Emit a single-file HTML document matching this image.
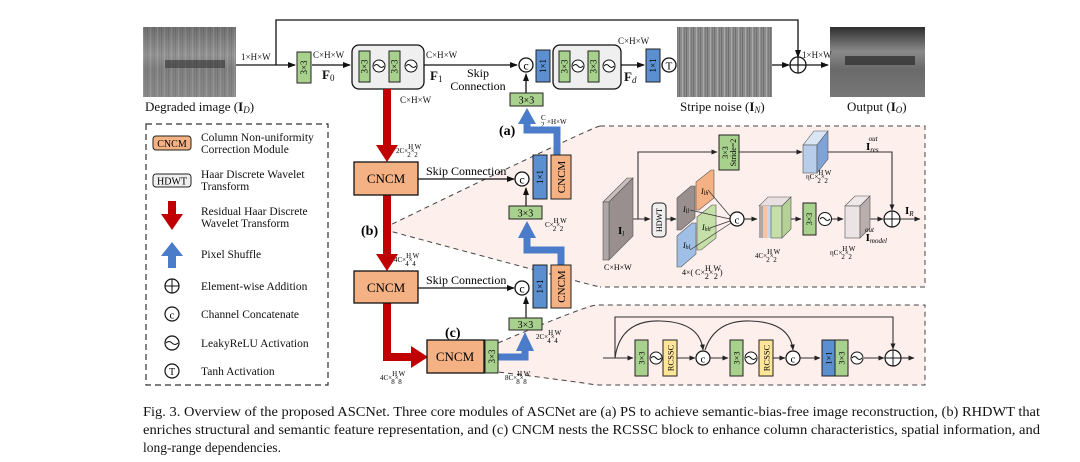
<!DOCTYPE html>
<html><head><meta charset="utf-8"><style>
html,body{margin:0;padding:0;background:#fff;}
svg{display:block;font-family:"Liberation Serif",serif;}
</style></head><body>
<svg width="1080" height="462" viewBox="0 0 1080 462" xmlns="http://www.w3.org/2000/svg">
<defs>
<marker id="ah" markerWidth="8" markerHeight="6" refX="7" refY="3" orient="auto" markerUnits="userSpaceOnUse"><path d="M0,0 L8,3 L0,6 z" fill="#111"/></marker>
<marker id="ahs" markerWidth="6" markerHeight="5" refX="5.5" refY="2.5" orient="auto" markerUnits="userSpaceOnUse"><path d="M0,0 L6,2.5 L0,5 z" fill="#222"/></marker>
<pattern id="stripes" width="7" height="10" patternUnits="userSpaceOnUse">
<rect width="7" height="10" fill="#8c8c8c"/><rect x="0" width="1" height="10" fill="#6f6f6f"/><rect x="3" width="1" height="10" fill="#a8a8a8"/><rect x="5" width="1" height="10" fill="#7a7a7a"/></pattern>
<linearGradient id="outg" x1="0" y1="0" x2="0" y2="1"><stop offset="0" stop-color="#2e2e2e"/><stop offset="0.35" stop-color="#8a8a8a"/><stop offset="0.6" stop-color="#6a6a6a"/><stop offset="1" stop-color="#777"/></linearGradient>
<linearGradient id="degg" x1="0" y1="0" x2="0" y2="1"><stop offset="0" stop-color="#5a5a5a"/><stop offset="0.4" stop-color="#9a9a9a"/><stop offset="0.6" stop-color="#777"/><stop offset="1" stop-color="#8a8a8a"/></linearGradient>
</defs>

<path d="M382,229 L596,126 L925,126 L925,287 L596,287 Z" fill="#fcefec"/>
<path d="M600,126 Q590,128 382,229 Q590,285 600,287" fill="none" stroke="#444" stroke-dasharray="5,4" stroke-width="1"/>
<path d="M600,126 L925,126 L925,287 L600,287" fill="none" stroke="#444" stroke-dasharray="5,4" stroke-width="1"/>
<path d="M498,343 L590,305 L925,305 L925,385 L590,385 L498,372 Z" fill="#fcefec"/>
<path d="M498,343 Q580,308 596,305 L925,305 L925,385 L596,385 Q580,382 498,372" fill="none" stroke="#444" stroke-dasharray="5,4" stroke-width="1"/>

<rect x="143" y="27" width="93" height="70" fill="url(#degg)"/>
<rect x="143" y="27" width="93" height="70" fill="url(#stripes)" opacity="0.45"/>
<rect x="165" y="60" width="60" height="8" fill="#333" opacity="0.6"/>
<rect x="677" y="27" width="95" height="70" fill="url(#stripes)"/>
<rect x="830" y="27" width="95" height="70" fill="url(#outg)"/>
<rect x="845" y="56" width="70" height="9" fill="#2a2a2a" opacity="0.7"/>
<g font-size="13" fill="#111">
<text x="145" y="111">Degraded image (<tspan font-weight="bold">I</tspan><tspan font-size="9" font-style="italic" dy="2">D</tspan><tspan dy="-2">)</tspan></text>
<text x="680" y="111">Stripe noise (<tspan font-weight="bold">I</tspan><tspan font-size="9" font-style="italic" dy="2">N</tspan><tspan dy="-2">)</tspan></text>
<text x="847" y="111">Output (<tspan font-weight="bold">I</tspan><tspan font-size="9" font-style="italic" dy="2">O</tspan><tspan dy="-2">)</tspan></text>
</g>

<g stroke="#111" stroke-width="1.3" fill="none">
<path d="M236,65 L295,65" marker-end="url(#ah)"/>
<path d="M276,65 L276,20 L798,20 L798,57" marker-end="url(#ah)"/>
<path d="M312,65 L350,65" marker-end="url(#ah)"/>
<path d="M424,65 L517,65" marker-end="url(#ah)"/>
<path d="M621,65 L644,65" marker-end="url(#ah)"/>
<path d="M772,65 L789,65" marker-end="url(#ah)"/>
<path d="M806,65 L828,65" marker-end="url(#ah)"/>
<path d="M526,93 L526,74" marker-end="url(#ah)"/>
</g>
<g font-size="9" fill="#111">
<text x="241" y="60">1×H×W</text>
<text x="313" y="58">C×H×W</text>
<text x="426" y="58">C×H×W</text>
<text x="400" y="103">C×H×W</text>
<text x="618" y="44">C×H×W</text>
<text x="802" y="58">1×H×W</text>
</g>
<g font-size="13" font-weight="bold" fill="#111">
<text x="322" y="79">F<tspan font-size="9" font-weight="normal" dy="2">0</tspan></text>
<text x="430" y="80">F<tspan font-size="9" font-weight="normal" dy="2">1</tspan></text>
<text x="624" y="81">F<tspan font-size="9" font-weight="normal" font-style="italic" dy="2">d</tspan></text>
</g>
<text x="478" y="77" font-size="12" text-anchor="middle">Skip</text>
<text x="478" y="90" font-size="12" text-anchor="middle">Connection</text>

<rect x="297" y="52" width="14" height="31" fill="#a9d18e" stroke="#222"/>
<text transform="translate(307,67.5) rotate(-90)" font-size="9" text-anchor="middle">3×3</text>
<rect x="352" y="45" width="72" height="44" rx="7" fill="#efefef" stroke="#111" stroke-width="1.3"/>
<rect x="359" y="51" width="11" height="31" fill="#a9d18e" stroke="#222"/>
<text transform="translate(367.5,66.5) rotate(-90)" font-size="9" text-anchor="middle">3×3</text>
<circle cx="379" cy="66" r="6" fill="#fff" stroke="#111"/><path d="M374,66 q2.5,-3 5,0 t5,0" fill="none" stroke="#111"/>
<rect x="389" y="51" width="11" height="31" fill="#a9d18e" stroke="#222"/>
<text transform="translate(397.5,66.5) rotate(-90)" font-size="9" text-anchor="middle">3×3</text>
<circle cx="411" cy="66" r="6" fill="#fff" stroke="#111"/><path d="M406,66 q2.5,-3 5,0 t5,0" fill="none" stroke="#111"/>
<circle cx="526" cy="65" r="7" fill="#fff" stroke="#111" stroke-width="1.3"/><text x="526" y="69.5" font-size="12" text-anchor="middle">c</text>
<rect x="536" y="50" width="14" height="32" fill="#5b8fd0" stroke="#222"/>
<text transform="translate(546,66) rotate(-90)" font-size="9" text-anchor="middle">1×1</text>
<rect x="553" y="45" width="68" height="44" rx="7" fill="#efefef" stroke="#111" stroke-width="1.3"/>
<rect x="559" y="51" width="11" height="31" fill="#a9d18e" stroke="#222"/>
<text transform="translate(567.5,66.5) rotate(-90)" font-size="9" text-anchor="middle">3×3</text>
<circle cx="578" cy="66" r="6" fill="#fff" stroke="#111"/><path d="M573,66 q2.5,-3 5,0 t5,0" fill="none" stroke="#111"/>
<rect x="588" y="51" width="11" height="31" fill="#a9d18e" stroke="#222"/>
<text transform="translate(596.5,66.5) rotate(-90)" font-size="9" text-anchor="middle">3×3</text>
<circle cx="609" cy="66" r="6" fill="#fff" stroke="#111"/><path d="M604,66 q2.5,-3 5,0 t5,0" fill="none" stroke="#111"/>
<rect x="646" y="49" width="14" height="33" fill="#5b8fd0" stroke="#222"/>
<text transform="translate(656,65.5) rotate(-90)" font-size="9" text-anchor="middle">1×1</text>
<circle cx="669" cy="65" r="7" fill="#fff" stroke="#111" stroke-width="1.3"/><text x="669" y="69.5" font-size="11" text-anchor="middle">T</text>
<circle cx="798" cy="65" r="8" fill="#fff" stroke="#111" stroke-width="1.3"/><path d="M790,65 H806 M798,57 V73" stroke="#111" stroke-width="1.2"/>
<rect x="510" y="93" width="33" height="13" fill="#a9d18e" stroke="#222"/><text x="526.5" y="103.5" font-size="10" text-anchor="middle">3×3</text>
<text x="541" y="120" font-size="7">C</text><text x="541" y="127" font-size="7">2</text><text x="547" y="124" font-size="7">×H×W</text>

<g fill="#c00000">
<rect x="383" y="89" width="8" height="58"/>
<path d="M376,145 L398,145 L387,162 Z"/>
<rect x="383" y="195" width="8" height="60"/>
<path d="M376,254 L398,254 L387,271 Z"/>
<rect x="383" y="303" width="8" height="58"/>
<rect x="383" y="353" width="30" height="8"/>
<path d="M411,346 L428,357 L411,368 Z"/>
</g>
<g fill="#4a7cc9">
<path d="M557,155 V130 H527 V122" stroke="#4a7cc9" stroke-width="7" fill="none"/>
<path d="M518,124 L536,124 L527,108 Z"/>
<path d="M561,266 V250 H527 V236" stroke="#4a7cc9" stroke-width="7" fill="none"/>
<path d="M518,238 L536,238 L527,221 Z"/>
<path d="M498,357 H525 V349" stroke="#4a7cc9" stroke-width="7" fill="none"/>
<path d="M516,351 L534,351 L525,332 Z"/>
</g>
<g stroke="#111" stroke-width="1.3">
<rect x="354" y="162" width="64" height="33" fill="#f4b183"/>
<rect x="354" y="271" width="64" height="32" fill="#f4b183"/>
<rect x="427" y="340" width="57" height="33" fill="#f4b183"/>
</g>
<g font-size="13" text-anchor="middle"><text x="386" y="183">CNCM</text><text x="386" y="292">CNCM</text><text x="455" y="361">CNCM</text></g>
<rect x="485" y="340" width="13" height="33" fill="#a9d18e" stroke="#222"/>
<text transform="translate(495,356.5) rotate(-90)" font-size="9" text-anchor="middle">3×3</text>
<g font-size="12"><text x="426" y="175">Skip Connection</text><text x="426" y="284">Skip Connection</text></g>
<g stroke="#111" stroke-width="1.2" fill="none">
<path d="M418,179 L514,179" marker-end="url(#ah)"/>
<path d="M418,288 L514,288" marker-end="url(#ah)"/>
<path d="M526,206 L526,188" marker-end="url(#ah)"/>
<path d="M526,318 L526,297" marker-end="url(#ah)"/>
</g>
<circle cx="522" cy="179" r="7" fill="#fff" stroke="#111" stroke-width="1.3"/><text x="522" y="183.5" font-size="12" text-anchor="middle">c</text>
<circle cx="522" cy="288" r="7" fill="#fff" stroke="#111" stroke-width="1.3"/><text x="522" y="292.5" font-size="12" text-anchor="middle">c</text>
<rect x="533" y="155" width="14" height="44" fill="#5b8fd0" stroke="#222"/><text transform="translate(543,177) rotate(-90)" font-size="9" text-anchor="middle">1×1</text>
<rect x="551" y="155" width="20" height="44" fill="#f4b183" stroke="#222"/><text transform="translate(565,177) rotate(-90)" font-size="11" text-anchor="middle">CNCM</text>
<rect x="533" y="265" width="14" height="43" fill="#5b8fd0" stroke="#222"/><text transform="translate(543,286.5) rotate(-90)" font-size="9" text-anchor="middle">1×1</text>
<rect x="551" y="265" width="20" height="43" fill="#f4b183" stroke="#222"/><text transform="translate(565,286.5) rotate(-90)" font-size="11" text-anchor="middle">CNCM</text>
<rect x="509" y="206" width="33" height="13" fill="#a9d18e" stroke="#222"/><text x="525.5" y="216.5" font-size="10" text-anchor="middle">3×3</text>
<rect x="509" y="318" width="33" height="12" fill="#a9d18e" stroke="#222"/><text x="525.5" y="328" font-size="10" text-anchor="middle">3×3</text>
<g font-size="14" font-weight="bold"><text x="499" y="135">(a)</text><text x="361" y="235">(b)</text><text x="445" y="337">(c)</text></g>
<g font-size="7">
<text x="396" y="153">2C×<tspan dy="-4">H</tspan><tspan dx="-6" dy="8">2</tspan><tspan dy="-4">×</tspan><tspan dy="-4">W</tspan><tspan dx="-7" dy="8">2</tspan></text>
<text x="394" y="262">4C×<tspan dy="-4">H</tspan><tspan dx="-6" dy="8">4</tspan><tspan dy="-4">×</tspan><tspan dy="-4">W</tspan><tspan dx="-7" dy="8">4</tspan></text>
<text x="545" y="227">C×<tspan dy="-4">H</tspan><tspan dx="-6" dy="8">2</tspan><tspan dy="-4">×</tspan><tspan dy="-4">W</tspan><tspan dx="-7" dy="8">2</tspan></text>
<text x="536" y="339">2C×<tspan dy="-4">H</tspan><tspan dx="-6" dy="8">4</tspan><tspan dy="-4">×</tspan><tspan dy="-4">W</tspan><tspan dx="-7" dy="8">4</tspan></text>
<text x="380" y="380">4C×<tspan dy="-4">H</tspan><tspan dx="-6" dy="8">8</tspan><tspan dy="-4">×</tspan><tspan dy="-4">W</tspan><tspan dx="-7" dy="8">8</tspan></text>
<text x="505" y="380">8C×<tspan dy="-4">H</tspan><tspan dx="-6" dy="8">8</tspan><tspan dy="-4">×</tspan><tspan dy="-4">W</tspan><tspan dx="-7" dy="8">8</tspan></text>
</g>

<rect x="146" y="124" width="182" height="261" fill="none" stroke="#333" stroke-dasharray="6,4" stroke-width="1.2"/>
<rect x="153" y="136" width="38" height="14" rx="3" fill="#f4b183" stroke="#222"/><text x="172" y="147" font-size="10" text-anchor="middle">CNCM</text>
<rect x="153" y="174" width="38" height="13" rx="3" fill="#efefef" stroke="#222"/><text x="172" y="184.5" font-size="10" text-anchor="middle">HDWT</text>
<rect x="168" y="201" width="8" height="15" fill="#c00000"/><path d="M161,214 L183,214 L172,230 Z" fill="#c00000"/>
<path d="M161,256 L183,256 L172,242 Z" fill="#4a7cc9"/><rect x="168" y="255" width="8" height="13" fill="#4a7cc9"/>
<circle cx="172" cy="286" r="7" fill="#fff" stroke="#111" stroke-width="1.2"/><path d="M165,286 H179 M172,279 V293" stroke="#111"/>
<circle cx="172" cy="314" r="7" fill="#fff" stroke="#111" stroke-width="1.2"/><text x="172" y="318.5" font-size="11" text-anchor="middle">c</text>
<circle cx="172" cy="343" r="7" fill="#fff" stroke="#111" stroke-width="1.2"/><path d="M166,343 q3,-3 6,0 t6,0" fill="none" stroke="#111"/>
<circle cx="172" cy="371" r="7" fill="#fff" stroke="#111" stroke-width="1.2"/><text x="172" y="375" font-size="10" text-anchor="middle">T</text>
<g font-size="11.5" fill="#111">
<text x="201" y="141">Column Non-uniformity</text><text x="201" y="153">Correction Module</text>
<text x="201" y="178">Haar Discrete Wavelet</text><text x="201" y="190">Transform</text>
<text x="201" y="215">Residual Haar Discrete</text><text x="201" y="227">Wavelet Transform</text>
<text x="201" y="258">Pixel Shuffle</text>
<text x="201" y="290">Element-wise Addition</text>
<text x="201" y="318">Channel Concatenate</text>
<text x="201" y="347">LeakyReLU Activation</text>
<text x="201" y="375">Tanh Activation</text>
</g>

<g stroke="#333" stroke-width="1.1" fill="none">
<path d="M612,219 L650,219" marker-end="url(#ahs)"/>
<path d="M638,219 L638,152 L717,152" marker-end="url(#ahs)"/>
<path d="M739,152 L802,152" marker-end="url(#ahs)"/>
<path d="M815,152 L892,152 L892,210" marker-end="url(#ahs)"/>
<path d="M666,219 L676,219" marker-end="url(#ahs)"/>
<path d="M744,219 L757,219" marker-end="url(#ahs)"/>
<path d="M785,219 L801,219" marker-end="url(#ahs)"/>
<path d="M832,219 L843,219" marker-end="url(#ahs)"/>
<path d="M855,219 L883,219" marker-end="url(#ahs)"/>
<path d="M900,219 L920,219" marker-end="url(#ahs)"/>
</g>
<polygon points="603,202 627,178 633,178 609,202" fill="#c9bdbd" stroke="#555" stroke-width="0.6"/>
<polygon points="609,202 633,178 633,236 609,260" fill="#9a8f8f" stroke="#555" stroke-width="0.6"/>
<rect x="603" y="202" width="6" height="58" fill="#b0a6a6" stroke="#555" stroke-width="0.6"/>
<text x="618" y="234" font-size="11" font-weight="bold">I<tspan font-size="7" font-style="italic" font-weight="normal" dy="2">l</tspan></text>
<text x="604" y="270" font-size="8">C×H×W</text>
<rect x="652" y="203" width="14" height="34" rx="4" fill="#efefef" stroke="#222"/><text transform="translate(662,220) rotate(-90)" font-size="8" text-anchor="middle">HDWT</text>
<polygon points="677,198 691,186 695,186 695,218 681,230 677,230" fill="#9a8f8f" stroke="#555" stroke-width="0.6"/>
<polygon points="696,182 711,170 714,170 714,198 699,210 696,210" fill="#f4b183" stroke="#555" stroke-width="0.6"/>
<polygon points="697,217 712,205 716,205 716,238 701,250 697,250" fill="#c5dfa8" stroke="#555" stroke-width="0.6"/>
<polygon points="677,236 692,223 696,223 696,254 681,267 677,267" fill="#9fbfe6" stroke="#555" stroke-width="0.6"/>
<g font-size="8" font-style="italic"><text x="683" y="212">I<tspan font-size="6" dy="1">ll</tspan></text><text x="701" y="194">I<tspan font-size="6" dy="1">lh</tspan></text><text x="702" y="230">I<tspan font-size="6" dy="1">hh</tspan></text><text x="683" y="248">I<tspan font-size="6" dy="1">hl</tspan></text></g>
<g stroke="#333" stroke-width="0.7"><path d="M690,210 L730,219 M708,190 L730,216 M710,228 L730,221 M690,250 L731,223"/></g>
<circle cx="737" cy="219" r="7" fill="#fff" stroke="#111" stroke-width="1.2"/><text x="737" y="223.5" font-size="11" text-anchor="middle">c</text>
<text x="682" y="275" font-size="8">4×( C×<tspan dy="-4">H</tspan><tspan dx="-6" dy="8">2</tspan><tspan dy="-4">×</tspan><tspan dy="-4">W</tspan><tspan dx="-7" dy="8">2</tspan><tspan dy="-4"> )</tspan></text>
<polygon points="759,206 768,197 791,197 782,206" fill="#e8e0e0" stroke="#555" stroke-width="0.6"/>
<rect x="759" y="206" width="4" height="32" fill="#b0a6a6"/><rect x="763" y="206" width="4" height="32" fill="#f4c4a4"/><rect x="767" y="206" width="4" height="32" fill="#c7d7ef"/><rect x="771" y="206" width="11" height="32" fill="#c5dfa8" stroke="#555" stroke-width="0.6"/>
<polygon points="782,206 791,197 791,229 782,238" fill="#b5d197" stroke="#555" stroke-width="0.6"/>
<text x="755" y="258" font-size="7">4C×<tspan dy="-4">H</tspan><tspan dx="-6" dy="8">2</tspan><tspan dy="-4">×</tspan><tspan dy="-4">W</tspan><tspan dx="-7" dy="8">2</tspan></text>
<rect x="803" y="203" width="13" height="32" fill="#a9d18e" stroke="#222"/><text transform="translate(812,219) rotate(-90)" font-size="8" text-anchor="middle">3×3</text>
<circle cx="825" cy="219" r="6.5" fill="#fff" stroke="#111"/><path d="M820,219 q2.5,-3 5,0 t5,0" fill="none" stroke="#111"/>
<polygon points="845,206 855,196 870,196 860,206" fill="#efe8e8" stroke="#555" stroke-width="0.6"/>
<rect x="845" y="206" width="15" height="32" fill="#ece4e4" stroke="#555" stroke-width="0.6"/>
<polygon points="860,206 870,196 870,228 860,238" fill="#b9adad" stroke="#555" stroke-width="0.6"/>
<text x="830" y="255" font-size="7">ηC×<tspan dy="-4">H</tspan><tspan dx="-6" dy="8">2</tspan><tspan dy="-4">×</tspan><tspan dy="-4">W</tspan><tspan dx="-7" dy="8">2</tspan></text>
<text x="865" y="241" font-size="11" font-weight="bold">I<tspan font-size="7" font-style="italic" font-weight="normal" dy="2">model</tspan><tspan font-size="7" font-style="italic" font-weight="normal" dx="-22" dy="-11">out</tspan></text>
<rect x="719" y="135" width="20" height="35" fill="#a9d18e" stroke="#222"/>
<text transform="translate(728,152.5) rotate(-90)" font-size="8" text-anchor="middle">3×3</text>
<text transform="translate(736,152.5) rotate(-90)" font-size="8" text-anchor="middle">Stride=2</text>
<polygon points="803,145 814,131 828,131 817,145" fill="#dbe6f4" stroke="#555" stroke-width="0.6"/>
<rect x="803" y="145" width="14" height="28" fill="#b8cde9" stroke="#555" stroke-width="0.6"/>
<polygon points="817,145 828,131 828,159 817,173" fill="#7fa3d6" stroke="#555" stroke-width="0.6"/>
<text x="806" y="179" font-size="7">ηC×<tspan dy="-4">H</tspan><tspan dx="-6" dy="8">2</tspan><tspan dy="-4">×</tspan><tspan dy="-4">W</tspan><tspan dx="-7" dy="8">2</tspan></text>
<text x="866" y="150" font-size="11" font-weight="bold">I<tspan font-size="7" font-style="italic" font-weight="normal" dy="2">res</tspan><tspan font-size="7" font-style="italic" font-weight="normal" dx="-10" dy="-11">out</tspan></text>
<circle cx="892" cy="219" r="8" fill="#fff" stroke="#111" stroke-width="1.2"/><path d="M884,219 H900 M892,211 V227" stroke="#111"/>
<text x="905" y="214" font-size="11" font-weight="bold">I<tspan font-size="7" font-style="italic" font-weight="normal" dy="2">R</tspan></text>

<g stroke="#333" stroke-width="1.1" fill="none">
<path d="M603,358 L633,358" marker-end="url(#ahs)"/>
<path d="M677,358 L695,358" marker-end="url(#ahs)"/>
<path d="M710,358 L728,358" marker-end="url(#ahs)"/>
<path d="M773,358 L785,358" marker-end="url(#ahs)"/>
<path d="M800,358 L820,358" marker-end="url(#ahs)"/>
<path d="M864,358 L884,358" marker-end="url(#ahs)"/>
<path d="M901,358 L914,358" marker-end="url(#ahs)"/>
<path d="M615,358 L615,317 L893,317 L893,349" marker-end="url(#ahs)"/>
<path d="M615,358 Q620,320 660,321 Q700,322 703,350" marker-end="url(#ahs)"/>
<path d="M705,350 Q715,320 750,321 Q790,322 793,350" marker-end="url(#ahs)"/>
</g>
<rect x="635" y="340" width="13" height="36" fill="#a9d18e" stroke="#222"/><text transform="translate(644.5,358) rotate(-90)" font-size="8.5" text-anchor="middle">3×3</text>
<circle cx="656" cy="358" r="6" fill="#fff" stroke="#111"/><path d="M651,358 q2.5,-3 5,0 t5,0" fill="none" stroke="#111"/>
<rect x="663" y="340" width="14" height="36" fill="#ffe699" stroke="#222"/><text transform="translate(673.5,358) rotate(-90)" font-size="8.5" text-anchor="middle">RCSSC</text>
<circle cx="703" cy="358" r="7" fill="#fff" stroke="#111" stroke-width="1.2"/><text x="703" y="362.5" font-size="11" text-anchor="middle">c</text>
<rect x="730" y="340" width="13" height="36" fill="#a9d18e" stroke="#222"/><text transform="translate(739.5,358) rotate(-90)" font-size="8.5" text-anchor="middle">3×3</text>
<circle cx="751" cy="358" r="6" fill="#fff" stroke="#111"/><path d="M746,358 q2.5,-3 5,0 t5,0" fill="none" stroke="#111"/>
<rect x="759" y="340" width="14" height="36" fill="#ffe699" stroke="#222"/><text transform="translate(769.5,358) rotate(-90)" font-size="8.5" text-anchor="middle">RCSSC</text>
<circle cx="793" cy="358" r="7" fill="#fff" stroke="#111" stroke-width="1.2"/><text x="793" y="362.5" font-size="11" text-anchor="middle">c</text>
<rect x="822" y="340" width="13" height="36" fill="#5b8fd0" stroke="#222"/><text transform="translate(831.5,358) rotate(-90)" font-size="8.5" text-anchor="middle">1×1</text>
<rect x="835" y="340" width="13" height="36" fill="#a9d18e" stroke="#222"/><text transform="translate(844.5,358) rotate(-90)" font-size="8.5" text-anchor="middle">3×3</text>
<circle cx="857" cy="358" r="6" fill="#fff" stroke="#111"/><path d="M852,358 q2.5,-3 5,0 t5,0" fill="none" stroke="#111"/>
<circle cx="893" cy="358" r="8" fill="#fff" stroke="#111" stroke-width="1.2"/><path d="M885,358 H901 M893,350 V366" stroke="#111"/>

<g font-size="13.5" fill="#111">
<text x="143" y="416" textLength="897" lengthAdjust="spacingAndGlyphs">Fig. 3.   Overview of the proposed ASCNet. Three core modules of ASCNet are (a) PS to achieve semantic-bias-free image reconstruction, (b) RHDWT that</text>
<text x="143" y="434" textLength="897" lengthAdjust="spacingAndGlyphs">enriches structural and semantic feature representation, and (c) CNCM nests the RCSSC block to enhance column characteristics, spatial information, and</text>
<text x="143" y="452">long-range dependencies.</text>
</g>
</svg>
</body></html>
